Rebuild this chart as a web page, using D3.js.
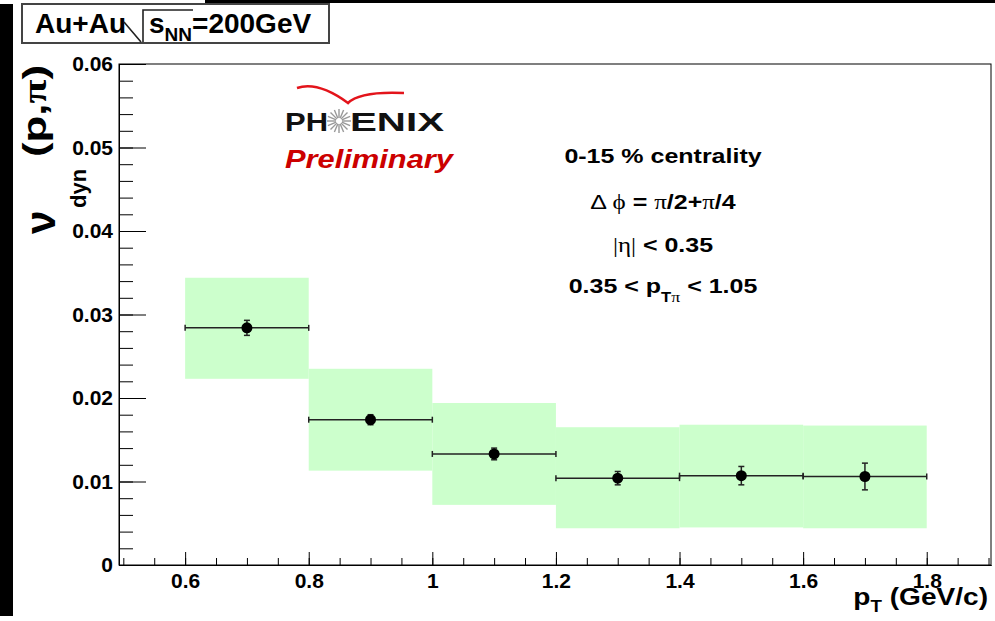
<!DOCTYPE html>
<html>
<head>
<meta charset="utf-8">
<script src="https://cdn.jsdelivr.net/npm/d3@7"></script>
<style>
  body { margin: 0; background: #fff; }
  svg { display: block; font-family: "Liberation Sans", Arial, sans-serif; }
  .axis text { font-size: 21px; font-weight: bold; fill: #000; }
  .axis path, .axis line { stroke: #000; stroke-width: 1; }
  .sym { font-family: "Liberation Serif", "Times New Roman", serif; font-weight: normal; }
</style>
</head>
<body>
<div id="chart"></div>
<script>
// pT bins (GeV/c) and v_dyn values
var binEdges = [0.6, 0.8, 1.0, 1.2, 1.4, 1.6, 1.8];
var vdyn     = [0.0284, 0.0174, 0.0133, 0.0104, 0.0107, 0.0106];
var statErr  = [0.0009, 0.0006, 0.0007, 0.0008, 0.0011, 0.0016];
var sysLow   = [0.0223, 0.0113, 0.0072, 0.0044, 0.0045, 0.0044];
var sysHigh  = [0.0344, 0.0235, 0.0194, 0.0165, 0.0168, 0.0167];

var xMajorTicks = [0.6, 0.8, 1.0, 1.2, 1.4, 1.6, 1.8];
var yMajorTicks = [0, 0.01, 0.02, 0.03, 0.04, 0.05, 0.06];

var W = 995, H = 621;
var frame = {left: 119, right: 991, top: 64, bottom: 565};

var data = vdyn.map(function(v, i) {
  return {lo: binEdges[i], hi: binEdges[i + 1], v: v, e: statErr[i], sl: sysLow[i], sh: sysHigh[i]};
});

var svg = d3.select("#chart").append("svg")
  .attr("width", W)
  .attr("height", H);

svg.append("rect").attr("width", W).attr("height", H).attr("fill", "#fff");

// black edges of the screenshot
svg.append("rect").attr("x", 0).attr("y", 4).attr("width", 13).attr("height", 612).attr("fill", "#000");
svg.append("rect").attr("x", 205).attr("y", 0).attr("width", W - 205).attr("height", 3).attr("fill", "#000");

var x = d3.scaleLinear().domain([0.493, 1.904]).range([frame.left, frame.right]);
var y = d3.scaleLinear().domain([0, 0.06]).range([frame.bottom, frame.top]);

// systematic boxes
svg.selectAll(".sys").data(data)
  .enter().append("rect")
  .attr("class", "sys")
  .attr("x", function(d) {return x(d.lo);})
  .attr("width", function(d) {return x(d.hi) - x(d.lo);})
  .attr("y", function(d) {return y(d.sh);})
  .attr("height", function(d) {return y(d.sl) - y(d.sh);})
  .attr("fill", "#ccffcc");

// frame
svg.append("rect")
  .attr("x", frame.left).attr("y", frame.top)
  .attr("width", frame.right - frame.left)
  .attr("height", frame.bottom - frame.top)
  .attr("fill", "none").attr("stroke", "#000");

// axes: ticks point into the frame
svg.append("g")
  .attr("class", "axis")
  .attr("transform", "translate(" + frame.left + ",0)")
  .call(d3.axisLeft(y).tickValues(d3.range(0, 0.0601, 0.002)).tickSizeInner(-14).tickSizeOuter(0).tickFormat(""));
svg.append("g")
  .attr("class", "axis")
  .attr("transform", "translate(" + frame.left + ",0)")
  .call(d3.axisLeft(y).tickValues(yMajorTicks).tickSizeInner(-27).tickSizeOuter(0).tickPadding(6)
    .tickFormat(function(d) {return d === 0 ? "0" : d3.format(".2f")(d);}));

svg.append("g")
  .attr("class", "axis")
  .attr("transform", "translate(0," + frame.bottom + ")")
  .call(d3.axisBottom(x).tickValues(d3.range(0.5, 1.901, 0.05)).tickSizeInner(-7).tickSizeOuter(0).tickFormat(""));
svg.append("g")
  .attr("class", "axis")
  .attr("transform", "translate(0," + frame.bottom + ")")
  .call(d3.axisBottom(x).tickValues(xMajorTicks).tickSizeInner(-13).tickSizeOuter(0).tickPadding(8)
    .tickFormat(function(d) {return d3.format("~g")(d);}));

// horizontal bin-width bars
var pts = svg.append("g").attr("stroke", "#222").attr("stroke-width", 1.5);
pts.selectAll(".hbar").data(data).enter().append("line")
  .attr("x1", function(d) {return x(d.lo);})
  .attr("x2", function(d) {return x(d.hi);})
  .attr("y1", function(d) {return y(d.v);})
  .attr("y2", function(d) {return y(d.v);});
pts.selectAll(".hcap").data(data.flatMap(function(d) {return [{x: d.lo, v: d.v}, {x: d.hi, v: d.v}];}))
  .enter().append("line")
  .attr("x1", function(d) {return x(d.x);})
  .attr("x2", function(d) {return x(d.x);})
  .attr("y1", function(d) {return y(d.v) - 3;})
  .attr("y2", function(d) {return y(d.v) + 3;});
// statistical error bars
pts.selectAll(".vbar").data(data).enter().append("line")
  .attr("x1", function(d) {return x((d.lo + d.hi) / 2);})
  .attr("x2", function(d) {return x((d.lo + d.hi) / 2);})
  .attr("y1", function(d) {return y(d.v + d.e);})
  .attr("y2", function(d) {return y(d.v - d.e);});
pts.selectAll(".vcap").data(data.flatMap(function(d) {
    return [{c: (d.lo + d.hi) / 2, v: d.v + d.e}, {c: (d.lo + d.hi) / 2, v: d.v - d.e}];
  }))
  .enter().append("line")
  .attr("x1", function(d) {return x(d.c) - 3;})
  .attr("x2", function(d) {return x(d.c) + 3;})
  .attr("y1", function(d) {return y(d.v);})
  .attr("y2", function(d) {return y(d.v);});
svg.selectAll(".dot").data(data).enter().append("circle")
  .attr("class", "dot")
  .attr("cx", function(d) {return x((d.lo + d.hi) / 2);})
  .attr("cy", function(d) {return y(d.v);})
  .attr("r", 5.5)
  .attr("fill", "#000");

// title box: Au+Au sqrt(s_NN)=200GeV
svg.append("rect").attr("x", 22).attr("y", 4).attr("width", 307).attr("height", 39)
  .attr("fill", "#fff").attr("stroke", "#444").attr("stroke-width", 2);
svg.append("text").attr("x", 35).attr("y", 33)
  .style("font-size", "28px").style("font-weight", "bold").text("Au+Au");
svg.append("path")
  .attr("d", "M124,22 L141,42 M143,42 L143,10 L193,10")
  .attr("fill", "none").attr("stroke", "#222").attr("stroke-width", 1.6);
var ttl = svg.append("text").attr("x", 149).attr("y", 33)
  .style("font-size", "28px").style("font-weight", "bold");
ttl.append("tspan").text("s");
ttl.append("tspan").attr("dy", 8).style("font-size", "19px").text("NN");
ttl.append("tspan").attr("dy", -8).text("=200GeV");

// y-axis title, rotated
var yl = svg.append("g").attr("transform", "rotate(-90)");
yl.append("text").attr("x", -234).attr("y", 55)
  .style("font-size", "42px").style("font-weight", "bold").text("ν");
yl.append("text").attr("x", -208).attr("y", 86)
  .style("font-size", "22px").style("font-weight", "bold").text("dyn");
var ylp = yl.append("text").attr("x", -157).attr("y", 46)
  .attr("textLength", 92).attr("lengthAdjust", "spacingAndGlyphs")
  .style("font-size", "34px").style("font-weight", "bold");
ylp.append("tspan").text("(p,");
ylp.append("tspan").attr("class", "sym").style("font-weight", "bold").text("π");
ylp.append("tspan").text(")");

// x-axis title
var xl = svg.append("g").attr("transform", "translate(988,605) scale(1.17,1)");
var xt = xl.append("text").attr("text-anchor", "end")
  .style("font-size", "24px").style("font-weight", "bold");
xt.append("tspan").text("p");
xt.append("tspan").attr("dy", 7).style("font-size", "16px").text("T");
xt.append("tspan").attr("dy", -7).text(" (GeV/c)");

// PHENIX logo
svg.append("path")
  .attr("d", "M297,88 Q318,81 348,103 Q360,91 404,93")
  .attr("fill", "none").attr("stroke", "#e3141b").attr("stroke-width", 2.5);
svg.append("text").attr("x", 285).attr("y", 131)
  .attr("textLength", 43).attr("lengthAdjust", "spacingAndGlyphs")
  .style("font-size", "26px").style("font-weight", "bold").attr("fill", "#111").text("PH");
svg.append("text").attr("x", 350).attr("y", 131)
  .attr("textLength", 94).attr("lengthAdjust", "spacingAndGlyphs")
  .style("font-size", "26px").style("font-weight", "bold").attr("fill", "#111").text("ENIX");
var star = svg.append("g").attr("transform", "translate(339,121)");
star.selectAll("line").data(d3.range(16)).enter().append("line")
  .attr("x1", function(i) {return 3 * Math.cos(i * Math.PI / 8);})
  .attr("y1", function(i) {return 3 * Math.sin(i * Math.PI / 8);})
  .attr("x2", function(i) {return 12 * Math.cos(i * Math.PI / 8);})
  .attr("y2", function(i) {return 12 * Math.sin(i * Math.PI / 8);})
  .attr("stroke", "#999").attr("stroke-width", 1.4);
svg.append("text").attr("x", 285).attr("y", 168)
  .attr("textLength", 168).attr("lengthAdjust", "spacingAndGlyphs")
  .style("font-size", "26px").style("font-weight", "bold").style("font-style", "italic")
  .attr("fill", "#cc0000").text("Preliminary");

// cut annotations
function note(cy) {
  return svg.append("g").attr("transform", "translate(663," + cy + ") scale(1.19,1)")
    .append("text").attr("text-anchor", "middle")
    .style("font-size", "21px").style("font-weight", "bold");
}
note(163).text("0-15 % centrality");
var n2 = note(209);
n2.append("tspan").attr("class", "sym").style("font-family", "'Liberation Sans', sans-serif").text("Δ ");
n2.append("tspan").attr("class", "sym").text("ϕ");
n2.append("tspan").text(" = ");
n2.append("tspan").attr("class", "sym").text("π");
n2.append("tspan").text("/2+");
n2.append("tspan").attr("class", "sym").text("π");
n2.append("tspan").text("/4");
var n3 = note(252);
n3.append("tspan").attr("class", "sym").text("|η|");
n3.append("tspan").text(" < 0.35");
var n4 = note(293);
n4.append("tspan").text("0.35 < p");
n4.append("tspan").attr("dy", 9).style("font-size", "14px").text("T");
n4.append("tspan").attr("class", "sym").style("font-size", "15px").text("π");
n4.append("tspan").attr("dy", -9).text(" < 1.05");
</script>
</body>
</html>
